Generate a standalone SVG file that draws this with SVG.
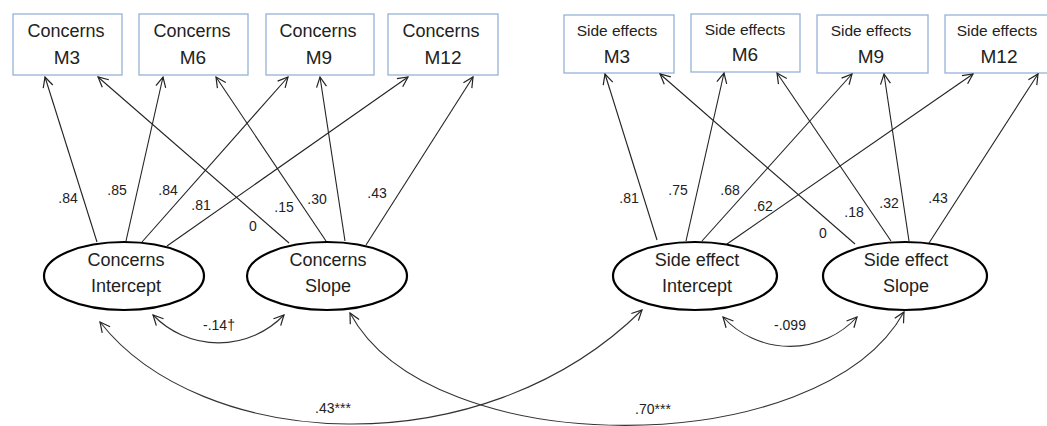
<svg xmlns="http://www.w3.org/2000/svg" width="1047" height="426" viewBox="0 0 1047 426">
  <defs>
    <marker id="arr" viewBox="-11 -6 12 12" refX="0" refY="0" markerWidth="12" markerHeight="12" markerUnits="userSpaceOnUse" orient="auto-start-reverse">
      <path d="M-10,-5 L0,0 L-10,5" fill="none" stroke="#222" stroke-width="1.2"/>
    </marker>
    <style>
      .box { fill: #fff; stroke: #95B3D7; stroke-width: 1.3; }
      .lat { fill: #fff; stroke: #000; stroke-width: 2.2; }
      .t { font-family: "Liberation Sans", Arial, sans-serif; fill: #222; text-anchor: middle; }
      .big { font-size: 18px; }
      .mid { font-size: 19px; }
      .se { font-size: 15.5px; }
      .lab { font-size: 14px; }
      .edge { fill: none; stroke: #222; stroke-width: 1.1; marker-end: url(#arr); }
      .cov { fill: none; stroke: #333; stroke-width: 1.1; marker-start: url(#arr); marker-end: url(#arr); }
    </style>
  </defs>

  <rect width="1047" height="426" fill="#fff"/>

  <!-- observed indicators -->
  <g id="concerns-m3"><rect class="box" x="13" y="14" width="109" height="61"/><text class="t big" x="66" y="37">Concerns</text><text class="t mid" x="67" y="64">M3</text></g>
  <g id="concerns-m6"><rect class="box" x="139" y="14" width="109" height="61"/><text class="t big" x="192" y="37">Concerns</text><text class="t mid" x="193" y="64">M6</text></g>
  <g id="concerns-m9"><rect class="box" x="266" y="14" width="108" height="61"/><text class="t big" x="318" y="37">Concerns</text><text class="t mid" x="319" y="64">M9</text></g>
  <g id="concerns-m12"><rect class="box" x="388" y="14" width="110" height="61"/><text class="t big" x="441" y="37">Concerns</text><text class="t mid" x="443" y="64">M12</text></g>

  <g id="side-m3"><rect class="box" x="564" y="15" width="110" height="58"/><text class="t se" x="617" y="36">Side effects</text><text class="t mid" x="617" y="63">M3</text></g>
  <g id="side-m6"><rect class="box" x="691" y="14" width="109" height="58"/><text class="t se" x="745" y="35">Side effects</text><text class="t mid" x="745" y="61">M6</text></g>
  <g id="side-m9"><rect class="box" x="817" y="15" width="111" height="58"/><text class="t se" x="871" y="36">Side effects</text><text class="t mid" x="871" y="63">M9</text></g>
  <g id="side-m12"><rect class="box" x="945" y="15" width="110" height="58"/><text class="t se" x="997" y="36">Side effects</text><text class="t mid" x="999" y="63">M12</text></g>

  <!-- connectors: loadings and covariances -->
  <g id="connectors">
    <line class="edge" x1="97" y1="242" x2="45" y2="77"/>
    <line class="edge" x1="126" y1="241" x2="163" y2="77"/>
    <line class="edge" x1="142" y1="242" x2="288" y2="77"/>
    <line class="edge" x1="167" y1="246" x2="408" y2="77"/>
    <line class="edge" x1="289" y1="243" x2="98" y2="77"/>
    <line class="edge" x1="326" y1="241" x2="216" y2="77"/>
    <line class="edge" x1="345" y1="241" x2="320" y2="77"/>
    <line class="edge" x1="366" y1="245" x2="473" y2="77"/>

    <line class="edge" x1="657" y1="240" x2="605" y2="74"/>
    <line class="edge" x1="686" y1="241" x2="724" y2="73"/>
    <line class="edge" x1="702" y1="241" x2="852" y2="74"/>
    <line class="edge" x1="727" y1="244" x2="973" y2="74"/>
    <line class="edge" x1="855" y1="244" x2="660" y2="74"/>
    <line class="edge" x1="891" y1="241" x2="777" y2="73"/>
    <line class="edge" x1="909" y1="241" x2="884" y2="74"/>
    <line class="edge" x1="929" y1="243" x2="1038" y2="74"/>

    <path class="cov" d="M153,315 A91,91 0 0 0 284,315"/>
    <path class="cov" d="M723,317 A91,91 0 0 0 857,317"/>
    <path class="cov" d="M100,322 C200,450 480,470 642,310"/>
    <path class="cov" d="M350,313 C430,463 820,463 904,312"/>
  </g>

  <!-- latent growth factors -->
  <g id="concerns-intercept"><ellipse class="lat" cx="124" cy="276" rx="80" ry="34"/><text class="t big" x="126" y="266">Concerns</text><text class="t big" x="126" y="292">Intercept</text></g>
  <g id="concerns-slope"><ellipse class="lat" cx="327" cy="276" rx="80" ry="34"/><text class="t big" x="328" y="266">Concerns</text><text class="t big" x="328" y="292">Slope</text></g>
  <g id="side-intercept"><ellipse class="lat" cx="695" cy="276" rx="82" ry="34"/><text class="t big" x="697" y="266">Side effect</text><text class="t big" x="697" y="292">Intercept</text></g>
  <g id="side-slope"><ellipse class="lat" cx="905" cy="276" rx="82" ry="34"/><text class="t big" x="906" y="266">Side effect</text><text class="t big" x="906" y="292">Slope</text></g>

  <!-- coefficient labels -->
  <g id="labels">
    <text class="t lab" x="68" y="203">.84</text>
    <text class="t lab" x="117" y="195">.85</text>
    <text class="t lab" x="168" y="195">.84</text>
    <text class="t lab" x="201" y="210">.81</text>
    <text class="t lab" x="253" y="231">0</text>
    <text class="t lab" x="284" y="212">.15</text>
    <text class="t lab" x="317" y="204">.30</text>
    <text class="t lab" x="377" y="198">.43</text>

    <text class="t lab" x="629" y="203">.81</text>
    <text class="t lab" x="678" y="195">.75</text>
    <text class="t lab" x="730" y="195">.68</text>
    <text class="t lab" x="763" y="211">.62</text>
    <text class="t lab" x="823" y="238">0</text>
    <text class="t lab" x="854" y="217">.18</text>
    <text class="t lab" x="889" y="208">.32</text>
    <text class="t lab" x="938" y="203">.43</text>

    <text class="t lab" x="219" y="330">-.14†</text>
    <text class="t lab" x="790" y="330">-.099</text>
    <text class="t lab" x="333" y="413">.43***</text>
    <text class="t lab" x="653" y="414">.70***</text>
  </g>
</svg>
